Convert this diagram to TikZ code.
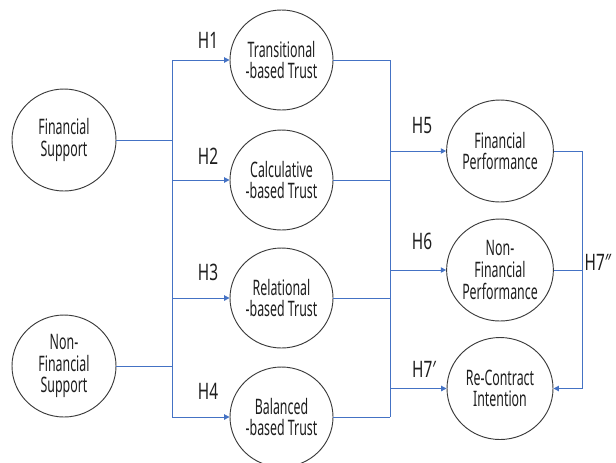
\documentclass[tikz,border=0pt]{standalone}
\usepackage{fontspec}
\setmainfont{Noto Sans}[FakeStretch=0.58]
\newfontfamily\hypfont{Noto Sans}[FakeStretch=0.68]
\usetikzlibrary{shapes.geometric,arrows.meta}
\definecolor{linkblue}{HTML}{4472C4}
\definecolor{rimgray}{HTML}{3A3A3A}
\definecolor{inkgray}{HTML}{1E1E1E}
\begin{document}
\begin{tikzpicture}[x=0.75pt,y=-0.75pt,
  var/.style={ellipse,draw=rimgray,line width=0.7pt,inner sep=0pt,align=center,
    text=inkgray,font=\fontsize{16}{16.2}\selectfont},
  srcvar/.style={var,minimum width=78pt,minimum height=76.5pt},
  trustvar/.style={var,minimum width=77.25pt,minimum height=75pt},
  perfvar/.style={var,minimum width=79.5pt,minimum height=76.5pt},
  hyp/.style={inner sep=0pt,text=inkgray,font=\hypfont\fontsize{17}{18}\selectfont},
  link/.style={draw=linkblue,line width=0.75pt},
  arr/.style={link,-{Triangle[length=4pt,width=4pt]}}]
\useasboundingbox (0,0) rectangle (616,462);

% source constructs
\node[srcvar] (fs)  at (64,140) {Financial\\Support};
\node[srcvar] (nfs) at (64,366) {Non-\\Financial\\Support};

% trust constructs
\node[trustvar] (t1) at (281.5,60)  {Transitional\\-based Trust};
\node[trustvar] (t2) at (281.5,180) {Calculative\\-based Trust};
\node[trustvar] (t3) at (281.5,298) {Relational\\-based Trust};
\node[trustvar] (t4) at (281.5,417) {Balanced\\-based Trust};

% outcome constructs
\node[perfvar] (p1) at (500,151)   {Financial\\Performance};
\node[perfvar] (p2) at (500,270)   {Non-\\Financial\\Performance};
\node[perfvar] (p3) at (500,388.5) {Re-Contract\\Intention};

% bus positions
\coordinate (lbus) at (172,0);
\coordinate (rbus) at (390,0);
\coordinate (fbus) at (582,0);

% left bus
\draw[link] (t1.west -| lbus) -- (t4.west -| lbus);
\draw[link] (fs.east) -- (fs.east -| lbus);
\draw[link] (nfs.east) -- (nfs.east -| lbus);
\foreach \n in {t1,t2,t3,t4} \draw[arr] (\n.west -| lbus) -- (\n.west);

% middle bus
\draw[link] (t1.east -| rbus) -- (t4.east -| rbus);
\foreach \n in {t1,t2,t3,t4} \draw[link] (\n.east) -- (\n.east -| rbus);
\foreach \n in {p1,p2,p3} \draw[arr] (\n.west -| rbus) -- (\n.west);

% right bus
\draw[link] (p1.east) -- (p1.east -| fbus) -- (p3.east -| fbus);
\draw[link] (p2.east) -- (p2.east -| fbus);
\draw[arr] (p3.east -| fbus) -- (p3.east);

% hypothesis labels
\node[hyp] (h1) at (208,40)  {H1};
\node[hyp] (h2) at (208,156) {H2};
\node[hyp] (h3) at (208,272) {H3};
\node[hyp] (h4) at (208,391) {H4};
\node[hyp] (h5) at (422,126) {H5};
\node[hyp] (h6) at (422,241) {H6};
\node[hyp] (h7a) at (424,369) {H7′};
\node[hyp] (h7b) at (598,262) {H7″};
\end{tikzpicture}
\end{document}
